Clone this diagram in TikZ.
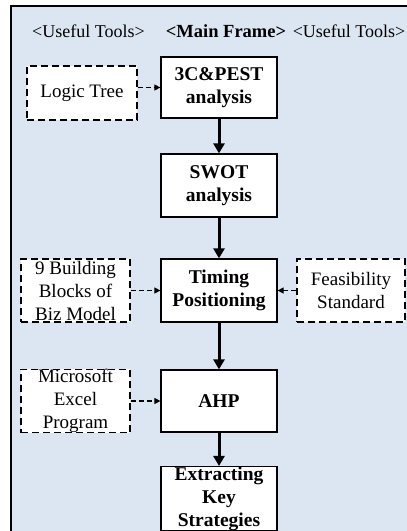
\documentclass[tikz,border=0pt]{standalone}
\usepackage{fontspec}
\setmainfont{Liberation Serif}
\usetikzlibrary{arrows.meta}
\definecolor{bgblue}{HTML}{DCE6F2}
\begin{document}
\begin{tikzpicture}[x=1pt,y=-1pt,
 txt/.style={font=\fontsize{19}{23}\selectfont, inner sep=0pt},
 headtxt/.style={font=\fontsize{18}{23}\selectfont, inner sep=0pt},
 mainbox/.style={txt, draw, fill=white, line width=1.2pt, minimum width=116pt, minimum height=62pt, align=center, font=\fontsize{19.5}{23}\selectfont\bfseries},
 toolbox/.style={txt, draw, fill=white, dash pattern=on 7pt off 4pt, line width=1.2pt, minimum width=109pt, minimum height=63pt, align=center},
 thickarrow/.style={line width=3pt, -{Triangle[length=10pt,width=11pt]}},
 dasharrow/.style={line width=1.1pt, dash pattern=on 5pt off 3pt, -{Triangle[length=6pt,width=6pt]}}
]
\useasboundingbox (0,0) rectangle (407,531);
\fill[white] (0,0) rectangle (407,531);
\draw[fill=bgblue, line width=2pt] (11,6) rectangle (430,560);

\node[headtxt] (h1) at (88.5,31) {<Useful Tools>};
\node[headtxt, font=\fontsize{18.5}{23}\selectfont\bfseries] (h2) at (226,31) {<Main Frame>};
\node[headtxt, anchor=east] (h3) at (405.5,31) {<Useful Tools>};

\node[mainbox, minimum height=61pt] (pest) at (219,87.5) {3C\&PEST\\analysis};
\node[mainbox, minimum height=63pt] (swot) at (219,185.5) {SWOT\\analysis};
\node[mainbox, minimum height=63pt] (timing) at (219,290.5) {Timing\\Positioning};
\node[mainbox] (ahp) at (219,401) {AHP};
\node[mainbox, minimum height=63pt] (extract) at (219,498.5) {Extracting\\Key\\Strategies};

\node[toolbox, minimum width=110pt, minimum height=54pt] (logic) at (82,93) {Logic Tree};
\node[toolbox] (build) at (75.5,290.5) {9 Building\\Blocks of\\Biz Model};
\node[toolbox, minimum width=108pt] (feas) at (351,290.5) {Feasibility\\Standard};
\node[toolbox, minimum height=62pt] (excel) at (75.5,401) {Microsoft\\Excel\\Program};

\draw[thickarrow] (pest) -- (swot);
\draw[thickarrow] (swot) -- (timing);
\draw[thickarrow] (timing) -- (ahp);
\draw[thickarrow] (ahp) -- (extract);

\draw[dasharrow] (logic.east |- pest.west) -- (pest.west);
\draw[dasharrow] (build) -- (timing);
\draw[dasharrow] (feas) -- (timing);
\draw[dasharrow] (excel) -- (ahp);
\end{tikzpicture}
\end{document}
